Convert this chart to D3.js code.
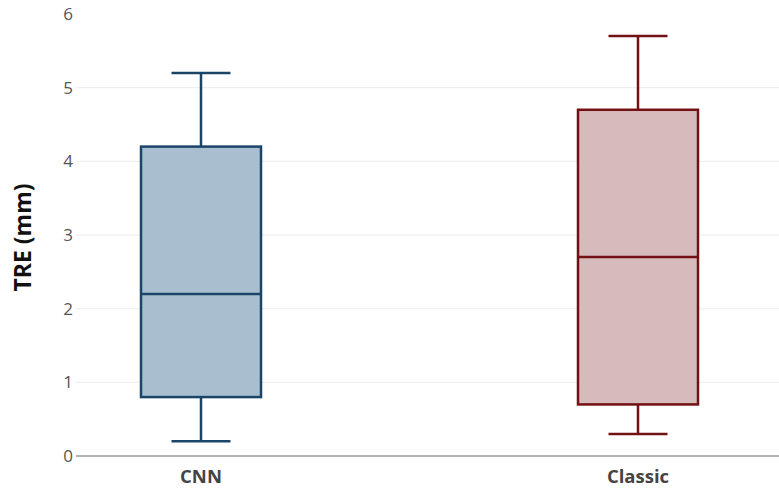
<!DOCTYPE html>
<html><head><meta charset="utf-8">
<script src="https://cdn.jsdelivr.net/npm/d3@7"></script>
<style>body{margin:0;background:#fff;font-family:"Open Sans",sans-serif;}</style>
</head><body><svg id="c" width="779" height="491"></svg>
<script>
const categories = ["CNN", "Classic"];
const mins = [0.2, 0.3];
const q1s = [0.8, 0.7];
const medians = [2.2, 2.7];
const q3s = [4.2, 4.7];
const maxs = [5.2, 5.7];
const strokeColors = ["#1b4469", "#731014"];
const fillColors = ["#a9bfcf", "#d5bbbc"];
const yTicks = [0, 1, 2, 3, 4, 5, 6];
const yTitle = "TRE (mm)";

const svg = d3.select("#c");
const plotLeft = 76, plotRight = 779, plotTop = 14, plotBottom = 456;
const y = d3.scaleLinear().domain([0, 6]).range([plotBottom, plotTop]);
const x = d3.scalePoint().domain(categories).range([201, 638]);
const boxW = 120, capW = 59;

// gridlines
svg.append("g").selectAll("line").data(yTicks.filter(t => t > 0 && t < 6)).join("line")
  .attr("x1", plotLeft).attr("x2", plotRight)
  .attr("y1", d => y(d)).attr("y2", d => y(d))
  .attr("stroke", "#ececec").attr("stroke-width", 1);

// y tick labels
svg.append("g").selectAll("text").data(yTicks).join("text")
  .attr("x", 73).attr("y", d => y(d)).attr("dy", "0.36em")
  .attr("text-anchor", "end").attr("font-size", 17).attr("fill", "#555")
  .text(d => d);

// axis line
svg.append("line").attr("x1", plotLeft).attr("x2", plotRight)
  .attr("y1", y(0)).attr("y2", y(0)).attr("stroke", "#666").attr("stroke-width", 1);

// y title
svg.append("text").attr("transform", `translate(31,237.5) rotate(-90)`)
  .attr("text-anchor", "middle").attr("font-size", 23).attr("font-weight", "bold")
  .attr("fill", "#111").text(yTitle);

// x labels
svg.append("g").selectAll("text").data(categories).join("text")
  .attr("x", d => x(d)).attr("y", 483).attr("text-anchor", "middle")
  .attr("font-size", 18.5).attr("font-weight", "bold").attr("fill", "#444")
  .text(d => d);

// boxes
const data = categories.map((c, i) => ({c, min: mins[i], q1: q1s[i], med: medians[i], q3: q3s[i], max: maxs[i], s: strokeColors[i], f: fillColors[i]}));
const g = svg.append("g").selectAll("g").data(data).join("g");
g.append("line").attr("x1", d => x(d.c)).attr("x2", d => x(d.c))
  .attr("y1", d => y(d.max)).attr("y2", d => y(d.q3)).attr("stroke", d => d.s).attr("stroke-width", 2.5);
g.append("line").attr("x1", d => x(d.c)).attr("x2", d => x(d.c))
  .attr("y1", d => y(d.q1)).attr("y2", d => y(d.min)).attr("stroke", d => d.s).attr("stroke-width", 2.5);
g.append("line").attr("x1", d => x(d.c) - capW / 2).attr("x2", d => x(d.c) + capW / 2)
  .attr("y1", d => y(d.max)).attr("y2", d => y(d.max)).attr("stroke", d => d.s).attr("stroke-width", 2.5);
g.append("line").attr("x1", d => x(d.c) - capW / 2).attr("x2", d => x(d.c) + capW / 2)
  .attr("y1", d => y(d.min)).attr("y2", d => y(d.min)).attr("stroke", d => d.s).attr("stroke-width", 2.5);
g.append("rect").attr("x", d => x(d.c) - boxW / 2).attr("width", boxW)
  .attr("y", d => y(d.q3)).attr("height", d => y(d.q1) - y(d.q3))
  .attr("fill", d => d.f).attr("stroke", d => d.s).attr("stroke-width", 2.5);
g.append("line").attr("x1", d => x(d.c) - boxW / 2).attr("x2", d => x(d.c) + boxW / 2)
  .attr("y1", d => y(d.med)).attr("y2", d => y(d.med)).attr("stroke", d => d.s).attr("stroke-width", 2.5);
</script></body></html>
